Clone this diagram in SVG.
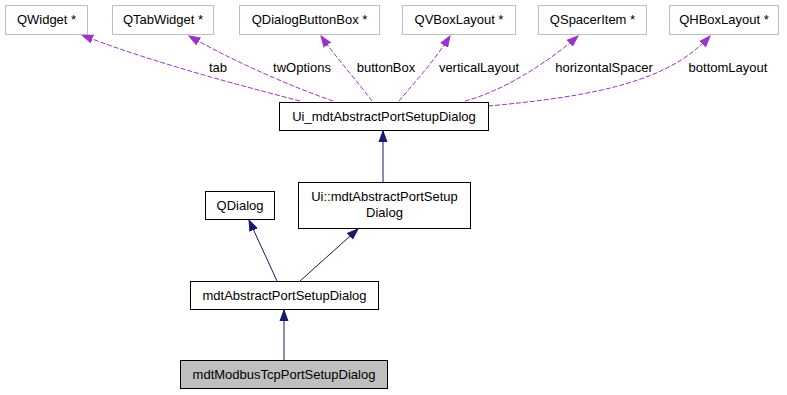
<svg xmlns="http://www.w3.org/2000/svg" width="787" height="395" viewBox="0 0 787 395">
  <style>
    text { font-family: "Liberation Sans", Arial, Helvetica, sans-serif; font-size: 13px; fill: #000; }
    .node { fill: #fff; stroke: #000; stroke-width: 1; }
    .ext { fill: #fff; stroke: #bfbfbf; stroke-width: 1; }
    .cur { fill: #bfbfbf; stroke: #000; stroke-width: 1; }
    .inh { fill: none; stroke: #191970; stroke-width: 1; marker-end: url(#headBlue); }
    .use { fill: none; stroke: #9a32cd; stroke-width: 1; stroke-dasharray: 5,2; marker-end: url(#headPurple); }
    .c { text-anchor: middle; }
  </style>
  <defs>
    <marker id="headBlue" markerUnits="userSpaceOnUse" markerWidth="12" markerHeight="10" refX="11" refY="5" orient="auto">
      <path d="M0,1 L11,5 L0,9 z" fill="#191970" stroke="#191970"/>
    </marker>
    <marker id="headPurple" markerUnits="userSpaceOnUse" markerWidth="12" markerHeight="10" refX="11" refY="5" orient="auto">
      <path d="M0,1 L11,5 L0,9 z" fill="#9a32cd" stroke="#9a32cd"/>
    </marker>
  </defs>

  <!-- connectors: dashed member links and solid inheritance links -->
  <g id="edges">
    <path class="use" d="M300,101 C250,88 150,62 82,35"/>
    <path class="use" d="M333,101 C290,86 235,62 189,36"/>
    <path class="use" d="M372,101 C358,82 338,60 321,36"/>
    <path class="use" d="M399,101 C415,82 435,60 450,36"/>
    <path class="use" d="M465,101 C500,92 545,65 578,36"/>
    <path class="use" d="M488,106 C600,96 670,80 710,36"/>
    <text class="c" x="218" y="72">tab</text>
    <text class="c" x="302" y="72">twOptions</text>
    <text class="c" x="386" y="72">buttonBox</text>
    <text class="c" x="479" y="72">verticalLayout</text>
    <text class="c" x="604" y="72">horizontalSpacer</text>
    <text class="c" x="728" y="72">bottomLayout</text>

    <path class="inh" d="M383,182 L383,131"/>
    <path class="inh" d="M277,281 L249,220"/>
    <path class="inh" d="M300,281 L358,229"/>
    <path class="inh" d="M284,360 L284,310"/>
  </g>

  <g id="n_qwidget">
    <rect class="ext" x="5.5" y="5.5" width="82" height="29"/>
    <text class="c" x="46.5" y="24">QWidget *</text>
  </g>
  <g id="n_qtabwidget">
    <rect class="ext" x="112.5" y="5.5" width="101" height="29"/>
    <text class="c" x="163" y="24">QTabWidget *</text>
  </g>
  <g id="n_qdialogbuttonbox">
    <rect class="ext" x="239.5" y="5.5" width="140" height="29"/>
    <text class="c" x="309.5" y="24">QDialogButtonBox *</text>
  </g>
  <g id="n_qvboxlayout">
    <rect class="ext" x="402.5" y="5.5" width="113" height="29"/>
    <text class="c" x="459" y="24">QVBoxLayout *</text>
  </g>
  <g id="n_qspaceritem">
    <rect class="ext" x="538.5" y="5.5" width="108" height="29"/>
    <text class="c" x="592.5" y="24">QSpacerItem *</text>
  </g>
  <g id="n_qhboxlayout">
    <rect class="ext" x="669.5" y="5.5" width="109" height="29"/>
    <text class="c" x="724" y="24">QHBoxLayout *</text>
  </g>

  <g id="n_ui_dialog">
    <rect class="node" x="279.5" y="102.5" width="209" height="28"/>
    <text class="c" x="384" y="121">Ui_mdtAbstractPortSetupDialog</text>
  </g>
  <g id="n_ui_ns_dialog">
    <rect class="node" x="298.5" y="182.5" width="172" height="46"/>
    <text class="c" x="384.5" y="201">Ui::mdtAbstractPortSetup</text>
    <text class="c" x="384.5" y="217">Dialog</text>
  </g>
  <g id="n_qdialog">
    <rect class="node" x="205.5" y="191.5" width="69" height="28"/>
    <text class="c" x="240" y="210">QDialog</text>
  </g>
  <g id="n_abstract">
    <rect class="node" x="190.5" y="281.5" width="188" height="28"/>
    <text class="c" x="284.5" y="300">mdtAbstractPortSetupDialog</text>
  </g>
  <g id="n_modbus">
    <rect class="cur" x="180.5" y="360.5" width="207" height="28"/>
    <text class="c" x="284" y="379">mdtModbusTcpPortSetupDialog</text>
  </g>
</svg>
